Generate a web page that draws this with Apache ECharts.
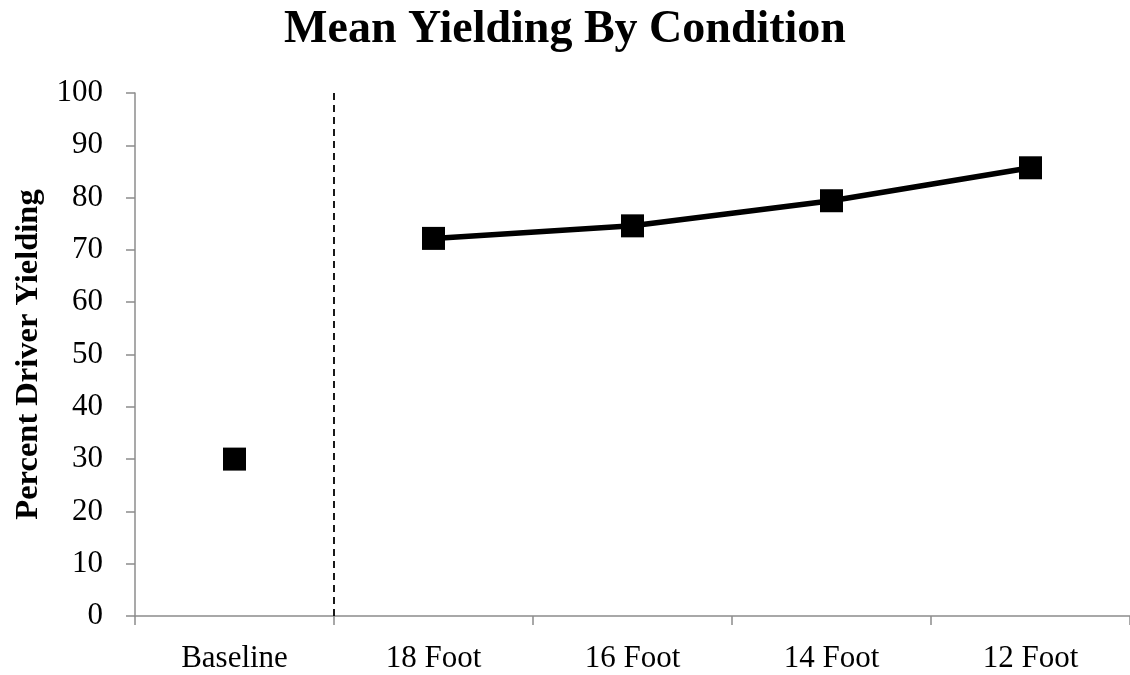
<!DOCTYPE html>
<html>
<head>
<meta charset="utf-8">
<title>Mean Yielding By Condition</title>
<script src="https://cdn.jsdelivr.net/npm/echarts@6/dist/echarts.min.js"></script>
<style>
  html, body { margin: 0; padding: 0; background: #fff; }
  #chart { width: 1130px; height: 675px; }
</style>
</head>
<body>
<div id="chart"></div>
<script>
// Conditions along the x axis
const categories = ['Baseline', '18 Foot', '16 Foot', '14 Foot', '12 Foot'];
// Baseline mean (shown alone, not connected)
const baselineValues = [30, '-', '-', '-', '-'];
// Crosswalk-distance conditions (connected line)
const conditionValues = ['-', 72.2, 74.6, 79.4, 85.7];
// Y axis ticks
const yMin = 0, yMax = 100, yStep = 10;
// Phase change after the first condition (position in category units)
const phaseBoundary = [1];

const serif = '"Liberation Serif", "Times New Roman", serif';
const axisGray = '#8c8c8c';

const chart = echarts.init(document.getElementById('chart'), null, { renderer: 'canvas' });

chart.setOption({
  backgroundColor: '#fff',
  animation: false,
  title: {
    text: 'Mean Yielding By Condition',
    left: 'center',
    top: 2,
    textStyle: { fontFamily: serif, fontSize: 46, fontWeight: 'bold', color: '#000' }
  },
  grid: { left: 135, top: 93, width: 1005, height: 523, containLabel: false },
  xAxis: [
    {
      type: 'category',
      data: categories,
      boundaryGap: true,
      axisLine: { lineStyle: { color: axisGray, width: 1.5 } },
      axisTick: { show: true, length: 9, lineStyle: { color: axisGray, width: 1.5 } },
      axisLabel: { fontFamily: serif, fontSize: 31, color: '#000', margin: 27 },
      splitLine: { show: false }
    },
    {
      // hidden linear axis spanning the category slots, used to place the phase line
      type: 'value',
      min: 0,
      max: categories.length,
      show: false
    }
  ],
  yAxis: {
    type: 'value',
    min: yMin,
    max: yMax,
    interval: yStep,
    name: 'Percent Driver Yielding',
    nameLocation: 'middle',
    nameGap: 90,
    nameRotate: 90,
    nameTextStyle: { fontFamily: serif, fontSize: 32.5, fontWeight: 'bold', color: '#000' },
    axisLine: { show: true, lineStyle: { color: axisGray, width: 1.5 } },
    axisTick: { show: true, length: 9, lineStyle: { color: axisGray, width: 1.5 } },
    axisLabel: { fontFamily: serif, fontSize: 31, color: '#000', margin: 32 },
    splitLine: { show: false }
  },
  series: [
    {
      name: 'Baseline',
      type: 'line',
      data: baselineValues,
      symbol: 'rect',
      symbolSize: 23,
      itemStyle: { color: '#000' },
      lineStyle: { width: 0 },
      z: 3
    },
    {
      name: 'Conditions',
      type: 'line',
      data: conditionValues,
      symbol: 'rect',
      symbolSize: 23,
      itemStyle: { color: '#000' },
      lineStyle: { color: '#000', width: 5.5 },
      z: 3
    },
    {
      name: 'Phase line',
      type: 'line',
      xAxisIndex: 1,
      data: [],
      markLine: {
        symbol: ['none', 'none'],
        silent: true,
        label: { show: false },
        lineStyle: { color: '#000', type: [7, 5], width: 1.8 },
        data: phaseBoundary.map(v => ({ xAxis: v }))
      }
    }
  ]
});
</script>
</body>
</html>
